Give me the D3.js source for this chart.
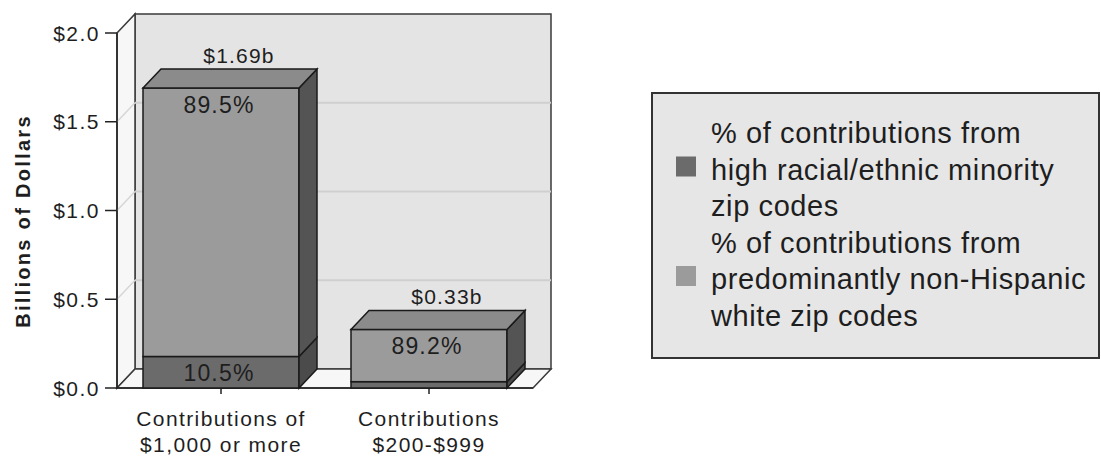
<!DOCTYPE html>
<html>
<head>
<meta charset="utf-8">
<script src="https://cdn.jsdelivr.net/npm/d3@7"></script>
<style>
  body { margin: 0; background: #fff; }
  text { font-family: "Liberation Sans", Arial, sans-serif; fill: #1e1e1e; }
</style>
</head>
<body>
<svg id="chart" width="1101" height="459"></svg>
<script>
// data
const categories = [["Contributions of", "$1,000 or more"], ["Contributions", "$200-$999"]];
const totals = [1.69, 0.33];
const totalLabels = ["$1.69b", "$0.33b"];
const minorityPct = [10.5, 10.8];
const whitePct = [89.5, 89.2];
const yTicks = [0, 0.5, 1.0, 1.5, 2.0];
const legendLabels = [
  ["% of contributions from", "high racial/ethnic minority", "zip codes"],
  ["% of contributions from", "predominantly non-Hispanic", "white zip codes"]
];

const svg = d3.select("#chart");
const depth = { dx: 18, dy: 19 };
const colors = {
  minority: { front: "#6b6b6b", side: "#4b4b4b", top: "#5e5e5e" },
  white: { front: "#9b9b9b", side: "#545454", top: "#8b8b8b" }
};

const y = d3.scaleLinear().domain([0, 2]).range([388, 33]);
const x = d3.scaleBand().domain(d3.range(categories.length))
  .range([117, 533]).paddingInner(0.25).paddingOuter(0.125);

const x0 = x.range()[0], x1 = x.range()[1];
const yb = y(0), yt = y(2);
const line = d3.line();

// walls
const walls = svg.append("g");
walls.append("rect")
  .attr("x", x0 + depth.dx).attr("y", yt - depth.dy)
  .attr("width", x1 - x0).attr("height", yb - yt)
  .attr("fill", "#e4e4e4").attr("stroke", "#3a3a3a").attr("stroke-width", 1.5);
walls.append("path")
  .attr("d", line([[x0, yt], [x0 + depth.dx, yt - depth.dy], [x0 + depth.dx, yb - depth.dy], [x0, yb]]) + "Z")
  .attr("fill", "#f7f7f7").attr("stroke", "#3a3a3a").attr("stroke-width", 1.5);
walls.append("path")
  .attr("d", line([[x0, yb], [x0 + depth.dx, yb - depth.dy], [x1 + depth.dx, yb - depth.dy], [x1, yb]]) + "Z")
  .attr("fill", "#f7f7f7").attr("stroke", "#3a3a3a").attr("stroke-width", 1.5);

// gridlines
const grid = yTicks.filter(v => v > 0 && v < 2);
walls.selectAll(".grid").data(grid).join("line")
  .attr("x1", x0 + depth.dx).attr("x2", x1 + depth.dx)
  .attr("y1", d => y(d) - depth.dy).attr("y2", d => y(d) - depth.dy)
  .attr("stroke", "#cfcfcf").attr("stroke-width", 2);
walls.selectAll(".sidegrid").data(grid).join("line")
  .attr("x1", x0).attr("x2", x0 + depth.dx)
  .attr("y1", d => y(d)).attr("y2", d => y(d) - depth.dy)
  .attr("stroke", "#d6d6d6").attr("stroke-width", 1.5);

// y axis
const yAxis = svg.append("g");
yAxis.append("line").attr("x1", x0).attr("x2", x0).attr("y1", yt).attr("y2", yb)
  .attr("stroke", "#222").attr("stroke-width", 1.5);
yAxis.selectAll(".tick").data(yTicks).join("line")
  .attr("x1", x0 - 12).attr("x2", x0).attr("y1", d => y(d)).attr("y2", d => y(d))
  .attr("stroke", "#222").attr("stroke-width", 1.5);
yAxis.selectAll(".lbl").data(yTicks).join("text")
  .attr("x", x0 - 17).attr("y", d => y(d))
  .attr("text-anchor", "end").attr("dominant-baseline", "central")
  .style("font-size", "21px").style("letter-spacing", "1.5px")
  .text(d => "$" + d3.format(".1f")(d));

svg.append("text")
  .attr("transform", "translate(23,221) rotate(-90)")
  .attr("text-anchor", "middle").attr("dominant-baseline", "central")
  .style("font-size", "20px").style("font-weight", "bold").style("letter-spacing", "2.3px")
  .text("Billions of Dollars");

// x axis
const xAxis = svg.append("g");
xAxis.append("line").attr("x1", x0).attr("x2", x1).attr("y1", yb).attr("y2", yb)
  .attr("stroke", "#222").attr("stroke-width", 1.5);
xAxis.selectAll(".tick").data(categories).join("line")
  .attr("x1", (d, i) => x(i) + x.bandwidth() / 2).attr("x2", (d, i) => x(i) + x.bandwidth() / 2)
  .attr("y1", yb).attr("y2", yb + 6)
  .attr("stroke", "#222").attr("stroke-width", 1.5);
categories.forEach((lines, i) => {
  xAxis.selectAll(null).data(lines).join("text")
    .attr("x", x(i) + x.bandwidth() / 2).attr("y", (d, j) => 426 + j * 26)
    .attr("text-anchor", "middle")
    .style("font-size", "21px").style("letter-spacing", "1.4px")
    .text(d => d);
});

// bars
function drawBox(g, bx, w, v0, v1, c, withTop) {
  const ya = y(v0), yb2 = y(v1);
  g.append("rect").attr("x", bx).attr("y", yb2).attr("width", w).attr("height", ya - yb2)
    .attr("fill", c.front).attr("stroke", "#1a1a1a").attr("stroke-width", 1.5);
  g.append("path")
    .attr("d", line([[bx + w, yb2], [bx + w + depth.dx, yb2 - depth.dy], [bx + w + depth.dx, ya - depth.dy], [bx + w, ya]]) + "Z")
    .attr("fill", c.side).attr("stroke", "#1a1a1a").attr("stroke-width", 1.5);
  if (withTop) {
    g.append("path")
      .attr("d", line([[bx, yb2], [bx + depth.dx, yb2 - depth.dy], [bx + w + depth.dx, yb2 - depth.dy], [bx + w, yb2]]) + "Z")
      .attr("fill", c.top).attr("stroke", "#1a1a1a").attr("stroke-width", 1.5);
  }
}

const bars = svg.append("g");
totals.forEach((t, i) => {
  const g = bars.append("g");
  const bx = x(i), w = x.bandwidth(), cx = bx + w / 2;
  const m = t * minorityPct[i] / 100;
  drawBox(g, bx, w, 0, m, colors.minority, false);
  drawBox(g, bx, w, m, t, colors.white, true);

  g.append("text").attr("x", cx + depth.dx).attr("y", y(t) - depth.dy - 6)
    .attr("text-anchor", "middle")
    .style("font-size", "21px").style("letter-spacing", "1.2px")
    .text(totalLabels[i]);
  g.append("text").attr("x", cx - 2).attr("y", y(t) + 25)
    .attr("text-anchor", "middle")
    .style("font-size", "23px").style("letter-spacing", "1.2px")
    .text(whitePct[i] + "%");
  if (y(0) - y(m) > 20) {
    g.append("text").attr("x", cx - 2).attr("y", (y(0) + y(m)) / 2 + 1)
      .attr("text-anchor", "middle").attr("dominant-baseline", "central")
      .style("font-size", "23px").style("letter-spacing", "1.2px")
      .text(minorityPct[i] + "%");
  }
});

// legend
const legend = svg.append("g");
legend.append("rect").attr("x", 652).attr("y", 93).attr("width", 447).attr("height", 265)
  .attr("fill", "#e6e6e6").attr("stroke", "#333").attr("stroke-width", 2);
const swatchColors = [colors.minority.front, colors.white.front];
legendLabels.forEach((lines, i) => {
  const base = 143 + i * 3 * 36.5;
  legend.append("rect").attr("x", 676).attr("y", base + 36.5 - 23).attr("width", 20).attr("height", 20)
    .attr("fill", swatchColors[i]);
  legend.selectAll(null).data(lines).join("text")
    .attr("x", 711).attr("y", (d, j) => base + j * 36.5)
    .style("font-size", "29px").style("letter-spacing", "0.6px")
    .text(d => d);
});
</script>
</body>
</html>
